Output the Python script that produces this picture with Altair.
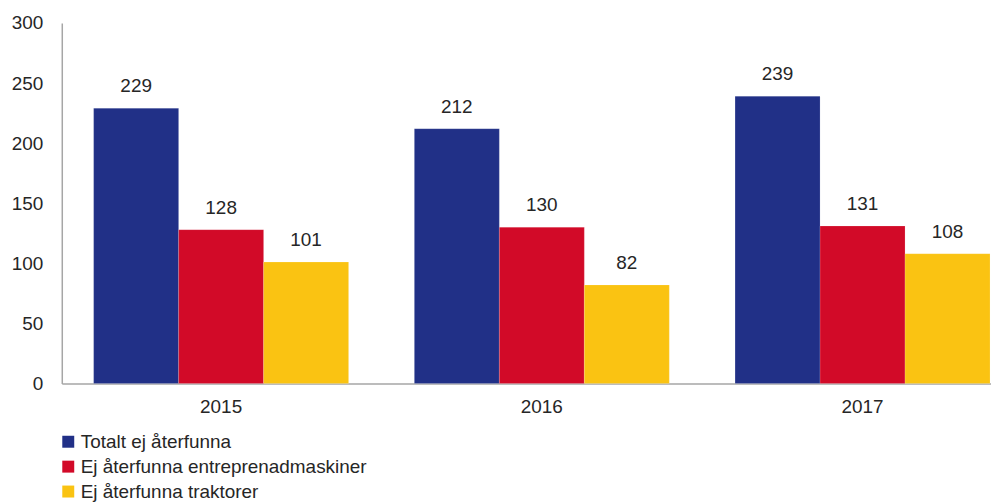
import altair as alt
import pandas as pd

years = ["2015", "2016", "2017"]
series = ["Totalt ej återfunna", "Ej återfunna entreprenadmaskiner", "Ej återfunna traktorer"]
totalt = [229, 212, 239]
entreprenad = [128, 130, 131]
traktorer = [101, 82, 108]
colors = ["#213087", "#D20A28", "#FAC312"]

rows = []
for i, y in enumerate(years):
    for s, vals in zip(series, [totalt, entreprenad, traktorer]):
        rows.append({"year": y, "series": s, "value": vals[i]})
df = pd.DataFrame(rows)

FONT = "Liberation Sans"
TXT = "#262626"

base = alt.Chart(df).encode(
    x=alt.X(
        "year:N",
        sort=years,
        title=None,
        scale=alt.Scale(paddingInner=0.205, paddingOuter=0.0512, align=0.97),
        axis=alt.Axis(
            labelAngle=0, ticks=False, domainColor="#A6A6A6", domainWidth=1.5,
            labelFont=FONT, labelFontSize=19, labelColor=TXT, labelPadding=14,
        ),
    ),
    xOffset=alt.XOffset("series:N", sort=series, scale=alt.Scale(paddingInner=0, paddingOuter=0)),
    y=alt.Y(
        "value:Q",
        title=None,
        scale=alt.Scale(domain=[0, 300]),
        axis=alt.Axis(
            values=[0, 50, 100, 150, 200, 250, 300], grid=False, ticks=False,
            domainColor="#A6A6A6", domainWidth=1.5,
            labelFont=FONT, labelFontSize=19, labelColor=TXT, labelPadding=19,
        ),
    ),
)

bars = base.mark_bar(stroke="white", strokeWidth=0.5, strokeOpacity=0.3).encode(
    color=alt.Color(
        "series:N",
        sort=series,
        scale=alt.Scale(domain=series, range=colors),
        legend=alt.Legend(
            title=None, orient="none", legendX=-3, legendY=411, direction="vertical",
            symbolType="square", symbolSize=144, symbolStrokeWidth=0,
            labelFont=FONT, labelFontSize=19, labelColor=TXT, labelOffset=3,
            labelLimit=0, rowPadding=5, padding=0,
        ),
    )
)

labels = base.mark_text(
    baseline="alphabetic", dy=-16, font=FONT, fontSize=19, color=TXT
).encode(text="value:Q")

chart = alt.layer(bars, labels).properties(
    width=933,
    height=362,
    autosize=alt.AutoSizeParams(type="none"),
    padding={"left": 54, "top": 14, "right": 0, "bottom": 118},
).configure_view(stroke=None)

chart.save("out.html", embed_options={"renderer": "svg", "actions": False})
